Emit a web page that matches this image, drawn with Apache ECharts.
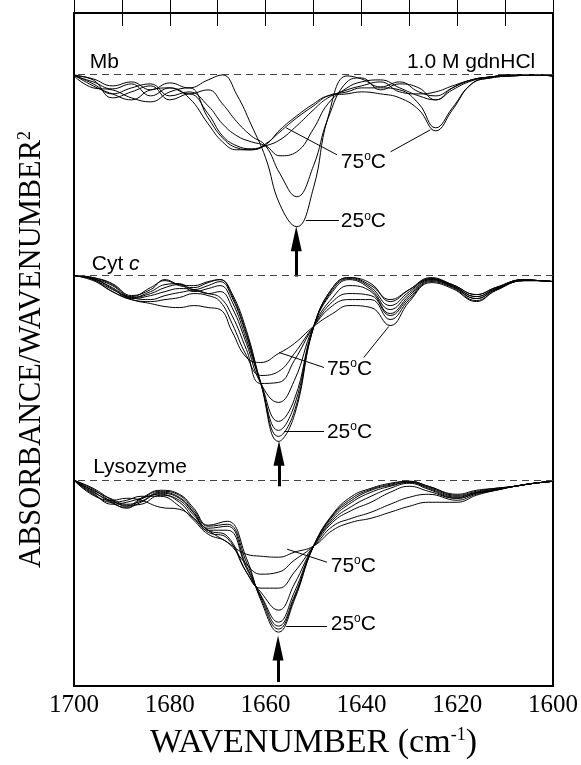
<!DOCTYPE html>
<html>
<head>
<meta charset="utf-8">
<script src="https://cdn.jsdelivr.net/npm/echarts/dist/echarts.min.js"></script>
<style>
html, body { margin: 0; padding: 0; background: #fff; }
#chart { width: 581px; height: 765px; }
</style>
</head>
<body>
<div id="chart"></div>
<script>
// wavenumber grids (cm-1), one per panel
var wnMb = [1700, 1696, 1692, 1688, 1684, 1680, 1676, 1672, 1669, 1666, 1663, 1660, 1657, 1653.5, 1650, 1647, 1643, 1640, 1636, 1632, 1628, 1624.5, 1621, 1617, 1613, 1608, 1604, 1600];
var wnCyt = [1700, 1696, 1692, 1688, 1684, 1681, 1678, 1675, 1672, 1669.5, 1667, 1664, 1661, 1657.3, 1654, 1650, 1646, 1642.6, 1638, 1634, 1630, 1625.5, 1621, 1616, 1612, 1606, 1603, 1600];
var wnLys = [1700, 1696, 1692, 1689, 1686, 1682, 1678, 1675, 1672, 1668, 1664, 1661, 1657.3, 1654, 1650, 1646, 1642, 1638, 1634, 1630, 1626, 1620, 1616, 1612, 1608, 1604, 1600];

// second derivative spectra (arbitrary units), Mb in 1.0 M gdnHCl
var mb25 = [-1, -5, -12, -8, -16, -9, -14, -6, -1, -21, -51, -84, -131, -153, -114, -44, -2, -5, -13, -8, -18, -22, -14, -6, -3, -1, -1, -2];
var mb35 = [-2, -8, -15, -10, -22, -14, -20, -16, -30, -48, -62, -72, -100, -123, -92, -45, -8, -4, -16, -10, -14, -26, -16, -7, -3, -1, -1, -2];
var mb45 = [-1, -10, -20, -14, -10, -22, -18, -32, -50, -62, -68, -72, -82, -78, -55, -30, -14, -8, -6, -14, -22, -26, -14, -6, -3, -1, -1, -2];
var mb55 = [-2, -6, -24, -18, -12, -26, -20, -40, -62, -72, -75, -72, -66, -52, -36, -24, -16, -12, -8, -18, -20, -18, -12, -6, -3, -1, -1, -2];
var mb65 = [-1, -12, -20, -26, -16, -14, -24, -50, -68, -76, -76, -70, -58, -44, -32, -22, -18, -14, -14, -16, -30, -54, -34, -10, -4, -2, -1, -2];
var mb75 = [-2, -14, -16, -24, -28, -18, -14, -44, -64, -74, -76, -71, -56, -42, -30, -22, -20, -18, -20, -24, -36, -57, -36, -10, -4, -2, -1, -2];

// Cyt c
var cyt25 = [0, -2, -8, -20, -14, -4, -9, -10, -6, -4, -18, -55, -108, -166, -140, -52, -12, -2, -8, -26, -14, -2, -9, -19, -12, -4, -5, -6];
var cyt35 = [0, -2, -9, -21, -12, -5, -10, -12, -7, -4, -20, -58, -108, -161, -136, -52, -12, -2, -10, -24, -14, -3, -9, -19, -12, -4, -5, -6];
var cyt45 = [0, -3, -10, -22, -16, -9, -8, -14, -10, -6, -22, -60, -108, -155, -130, -52, -14, -3, -12, -30, -16, -3, -10, -21, -13, -4, -5, -6];
var cyt50 = [0, -3, -12, -22, -18, -12, -9, -16, -13, -10, -26, -64, -107, -146, -124, -51, -16, -4, -14, -34, -18, -4, -10, -21, -13, -4, -5, -6];
var cyt55 = [0, -3, -13, -23, -20, -16, -13, -14, -18, -16, -32, -68, -108, -127, -105, -51, -22, -10, -16, -38, -20, -4, -11, -23, -14, -5, -5, -6];
var cyt60 = [0, -4, -14, -22, -24, -20, -17, -15, -18, -22, -40, -74, -108, -107, -85, -51, -26, -18, -20, -40, -22, -5, -11, -23, -14, -5, -5, -6];
var cyt65 = [0, -4, -16, -24, -26, -24, -22, -18, -20, -26, -48, -80, -100, -96, -78, -51, -30, -24, -24, -44, -24, -6, -12, -25, -15, -5, -5, -6];
var cyt75 = [0, -5, -16, -24, -28, -31, -32, -30, -32, -34, -56, -82, -87, -78, -68, -51, -38, -30, -32, -50, -26, -7, -13, -26, -15, -5, -5, -6];

// Lysozyme
var lys25 = [0, -8, -20, -26, -18, -10, -14, -28, -45, -41, -78, -120, -152, -120, -66, -34, -16, -8, -3, -1, -6, -14, -10, -8, -6, -3, -1];
var lys35 = [0, -9, -22, -28, -19, -11, -15, -30, -46, -44, -82, -118, -149, -118, -66, -35, -18, -9, -4, -1, -6, -15, -11, -8, -6, -3, -1];
var lys45 = [0, -10, -19, -24, -21, -12, -17, -32, -48, -46, -86, -116, -146, -116, -66, -36, -20, -10, -5, -2, -7, -16, -12, -9, -6, -3, -1];
var lys50 = [0, -11, -23, -27, -22, -13, -18, -33, -50, -50, -88, -115, -142, -112, -66, -38, -22, -12, -6, -2, -8, -17, -12, -9, -6, -3, -1];
var lys55 = [0, -12, -21, -25, -24, -15, -20, -35, -50, -56, -92, -112, -130, -104, -66, -40, -26, -16, -8, -3, -9, -18, -13, -9, -6, -3, -1];
var lys60 = [0, -13, -24, -22, -18, -14, -22, -38, -52, -58, -92, -108, -108, -92, -66, -42, -30, -22, -12, -6, -11, -18, -13, -10, -6, -3, -1];
var lys65 = [0, -14, -22, -20, -16, -16, -26, -40, -54, -62, -84, -94, -92, -80, -66, -46, -38, -32, -24, -17, -14, -20, -14, -10, -6, -3, -1];
var lys75 = [0, -15, -20, -18, -20, -27, -29, -38, -50, -62, -74, -76, -77, -72, -66, -50, -42, -38, -32, -26, -22, -22, -15, -10, -6, -3, -1];

var xTicks = [1700, 1680, 1660, 1640, 1620, 1600];

// vertical offsets of the three stacked panels
var baseMb = -61, baseCyt = -263, baseLys = -468;

var myChart = echarts.init(document.getElementById('chart'));

var sans = 'Liberation Sans';
var serif = 'Liberation Serif';

function curve(name, wn, vals, base) {
    return {
        name: name,
        type: 'line',
        data: wn.map(function (w, i) { return [w, base + vals[i]]; }),
        smooth: 0.45,
        showSymbol: false,
        silent: true,
        lineStyle: { color: '#000', width: 1 },
        z: 3
    };
}

function seg(x1, y1, x2, y2) {
    return [{ coord: [x1, y1] }, { coord: [x2, y2] }];
}

var textLabel = {
    show: true,
    position: 'right',
    distance: 0,
    color: '#000',
    fontFamily: sans,
    fontSize: 21,
    formatter: function (p) { return p.name; },
    rich: {
        o: { fontSize: 12, fontFamily: sans, verticalAlign: 'top', padding: [0, 0, 11, 0] },
        i: { fontSize: 21, fontFamily: sans, fontStyle: 'italic' }
    }
};

// panel annotations: dashed zero line, labels, leader lines, arrow
function annotate(s, base, texts, leaders, arrow) {
    s.markPoint = {
        symbol: 'circle',
        symbolSize: 0,
        silent: true,
        label: textLabel,
        data: texts
    };
    var lines = [{ yAxis: base, lineStyle: { type: [7, 5], color: '#444', width: 1 } }];
    leaders.forEach(function (l) { lines.push(l); });
    var a = [{ coord: arrow[0], symbol: 'none' }, { coord: arrow[1], symbol: 'triangle', symbolSize: [11, 25] }];
    a[0].lineStyle = { width: 3, color: '#000', type: 'solid' };
    lines.push(a);
    s.markLine = {
        silent: true,
        symbol: ['none', 'none'],
        label: { show: false },
        lineStyle: { color: '#000', width: 1, type: 'solid' },
        data: lines
    };
    return s;
}

var series = [];
[['25', mb25], ['35', mb35], ['45', mb45], ['55', mb55], ['65', mb65], ['75', mb75]].forEach(function (c) {
    series.push(curve('Mb ' + c[0] + '°C', wnMb, c[1], baseMb));
});
[['25', cyt25], ['35', cyt35], ['45', cyt45], ['50', cyt50], ['55', cyt55], ['60', cyt60], ['65', cyt65], ['75', cyt75]].forEach(function (c) {
    series.push(curve('Cyt c ' + c[0] + '°C', wnCyt, c[1], baseCyt));
});
[['25', lys25], ['35', lys35], ['45', lys45], ['50', lys50], ['55', lys55], ['60', lys60], ['65', lys65], ['75', lys75]].forEach(function (c) {
    series.push(curve('Lysozyme ' + c[0] + '°C', wnLys, c[1], baseLys));
});

annotate(series[5], baseMb,
    [
        { name: 'Mb', coord: [1696.7, -49] },
        { name: '1.0 M gdnHCl', coord: [1603.7, -49], label: { position: 'left' } },
        { name: '75{o|o}C', coord: [1644.3, -149] },
        { name: '25{o|o}C', coord: [1644.3, -209] }
    ],
    [
        seg(1651.6, -208, 1644.7, -208),
        seg(1645.1, -142, 1655.7, -115),
        seg(1633.9, -139, 1625.6, -117)
    ],
    [[1653.6, -264], [1653.6, -226]]);

annotate(series[13], baseCyt,
    [
        { name: 'Cyt {i|c}', coord: [1696.3, -252] },
        { name: '75{o|o}C', coord: [1647.2, -357] },
        { name: '25{o|o}C', coord: [1647.2, -420] }
    ],
    [
        seg(1656.1, -419, 1647.8, -419),
        seg(1647.8, -355, 1657.2, -340),
        seg(1639.5, -345, 1634.3, -314)
    ],
    [[1657.2, -474], [1657.2, -441]]);

annotate(series[21], baseLys,
    [
        { name: 'Lysozyme', coord: [1696, -455] },
        { name: '75{o|o}C', coord: [1646.4, -554] },
        { name: '25{o|o}C', coord: [1646.4, -612] }
    ],
    [
        seg(1647.2, -550, 1655.5, -537),
        seg(1655.7, -614, 1647.2, -614)
    ],
    [[1657.4, -670], [1657.4, -636]]);

var option = {
    animation: false,
    backgroundColor: '#fff',
    grid: { left: 74, right: 26, top: 13, bottom: 78, show: true, borderColor: '#000', borderWidth: 2, backgroundColor: 'transparent' },
    xAxis: [
        {
            type: 'value', min: 1600, max: 1700, interval: 10, inverse: true, position: 'bottom',
            axisLine: { show: false },
            axisTick: { show: true, inside: true, length: 14, lineStyle: { color: '#000', width: 1 } },
            splitLine: { show: false },
            axisLabel: {
                color: '#000', fontFamily: serif, fontSize: 25, margin: 7,
                formatter: function (v) { return xTicks.indexOf(v) >= 0 ? String(v) : ''; }
            },
            name: 'WAVENUMBER (cm{sup|-1})',
            nameLocation: 'middle',
            nameGap: 40,
            nameTextStyle: {
                color: '#000', fontFamily: serif, fontSize: 34,
                rich: { sup: { fontFamily: serif, fontSize: 18, verticalAlign: 'top', padding: [0, 0, 16, 0] } }
            }
        },
        {
            type: 'value', min: 1600, max: 1700, interval: 10, inverse: true, position: 'top',
            axisLine: { show: false },
            axisTick: { show: true, inside: true, length: 13, lineStyle: { color: '#000', width: 1 } },
            axisLabel: { show: false },
            splitLine: { show: false }
        }
    ],
    yAxis: {
        type: 'value', min: -674, max: 0,
        axisLine: { show: false },
        axisTick: { show: false },
        axisLabel: { show: false },
        splitLine: { show: false },
        name: 'ABSORBANCE/WAVENUMBER{sup|2}',
        nameLocation: 'middle',
        nameGap: 26,
        nameRotate: 90,
        nameTextStyle: {
            color: '#000', fontFamily: serif, fontSize: 30.5,
            rich: { sup: { fontFamily: serif, fontSize: 18, verticalAlign: 'top', padding: [0, 0, 14, 0] } }
        }
    },
    series: series
};

myChart.setOption(option);
</script>
</body>
</html>
